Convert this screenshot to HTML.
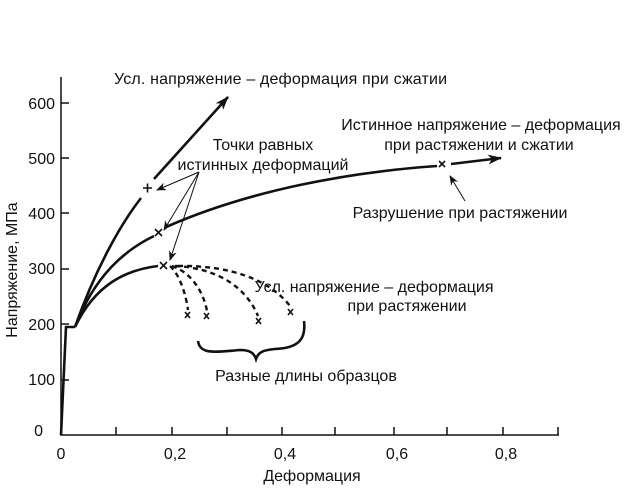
<!DOCTYPE html>
<html><head><meta charset="utf-8"><style>
body{margin:0;background:#fff;}
svg text{font-family:"Liberation Sans",sans-serif;font-size:16px;fill:#111;}
</style></head><body>
<svg width="642" height="485" viewBox="0 0 642 485">
<defs>
<marker id="ab" markerWidth="10" markerHeight="8" refX="9" refY="4" orient="auto" markerUnits="userSpaceOnUse"><path d="M0,0 L10,4 L0,8 L3,4z" fill="#111"/></marker>
<marker id="as" markerWidth="14" markerHeight="10" refX="13" refY="5" orient="auto" markerUnits="userSpaceOnUse"><path d="M0,0 L14,5 L0,10 L4,5z" fill="#111"/></marker>
</defs>
<g stroke="#111" stroke-width="1.5" fill="none">
<path d="M61,77 L61,435 L559,435"/>
<path d="M61,103h8M61,158h8M61,213h8M61,269h8M61,324h8M61,380h8"/>
<path d="M116,435v-8M172,435v-8M227,435v-8M282,435v-8M335,435v-8M394,435v-8M447,435v-8M503,435v-8M558,435v-8"/>
</g>
<g>
<text x="55" y="109" text-anchor="end">600</text>
<text x="55" y="164" text-anchor="end">500</text>
<text x="55" y="219" text-anchor="end">400</text>
<text x="55" y="274" text-anchor="end">300</text>
<text x="55" y="330" text-anchor="end">200</text>
<text x="55" y="385" text-anchor="end">100</text>
<text x="43" y="436" text-anchor="end">0</text>
<text x="61" y="459" text-anchor="middle">0</text>
<text x="175" y="459" text-anchor="middle">0,2</text>
<text x="285" y="459" text-anchor="middle">0,4</text>
<text x="397" y="459" text-anchor="middle">0,6</text>
<text x="506" y="459" text-anchor="middle">0,8</text>
<text x="312" y="481" text-anchor="middle">Деформация</text>
<text transform="translate(17,270) rotate(-90)" text-anchor="middle">Напряжение, МПа</text>
<text x="114" y="84" textLength="333">Усл. напряжение – деформация при сжатии</text>
<text x="263" y="150" text-anchor="middle">Точки равных</text>
<text x="263" y="170" text-anchor="middle">истинных деформаций</text>
<text x="481" y="130" text-anchor="middle">Истинное напряжение – деформация</text>
<text x="479" y="150" text-anchor="middle">при растяжении и сжатии</text>
<text x="460" y="218" text-anchor="middle">Разрушение при растяжении</text>
<text x="374" y="292" text-anchor="middle">Усл. напряжение – деформация</text>
<text x="407" y="311" text-anchor="middle">при растяжении</text>
<text x="306" y="381" text-anchor="middle">Разные длины образцов</text>
</g>
<g stroke="#111" stroke-width="2.6" fill="none">
<path d="M61,435 L66,327 L75,327"/>
<path d="M75,327 C95,270 120,225 141,198"/>
<path d="M154,179 L228,97" marker-end="url(#as)"/>
<path d="M75,327 C95,275 125,250 154,236"/>
<path d="M166,227 C250,190 350,172 437,166"/>
<path d="M451,164 L501,158" marker-end="url(#as)"/>
<path d="M75,327 C95,285 125,270 158,266"/>
</g>
<g stroke="#111" stroke-width="2.4" fill="none" stroke-dasharray="5,4">
<path d="M170,266 C180,275 186,295 188,310"/>
<path d="M172,266 C190,272 203,290 207,311"/>
<path d="M175,266 C215,268 245,285 258,316"/>
<path d="M178,266 C230,265 270,280 290,306"/>
</g>
<g stroke="#111" stroke-width="1.6" fill="none">
<path d="M143,188h9M147.5,183.5v9"/>
<path d="M155,229l7,7M162,229l-7,7"/>
<path d="M160,262l7,7M167,262l-7,7"/>
<path d="M439,161l6,6M445,161l-6,6"/>
<path d="M185,312l5,6M190,312l-5,6M204,313l5,6M209,313l-5,6M256,318l5,6M261,318l-5,6M288,309l5,6M293,309l-5,6"/>
</g>
<g stroke="#111" stroke-width="1" fill="none">
<path d="M199,172 L157,190" marker-end="url(#ab)"/>
<path d="M199,172 L164,230" marker-end="url(#ab)"/>
<path d="M199,172 L170,260" marker-end="url(#ab)"/>
<path d="M465,201 L450,176" marker-end="url(#ab)"/>
</g>
<path d="M198,341 C200,355 215,352 240,350 C250,350 254,353 256,359 C258,353 262,350 275,349 C300,348 306,338 304,321" stroke="#111" stroke-width="2.6" fill="none"/>
</svg>
</body></html>
